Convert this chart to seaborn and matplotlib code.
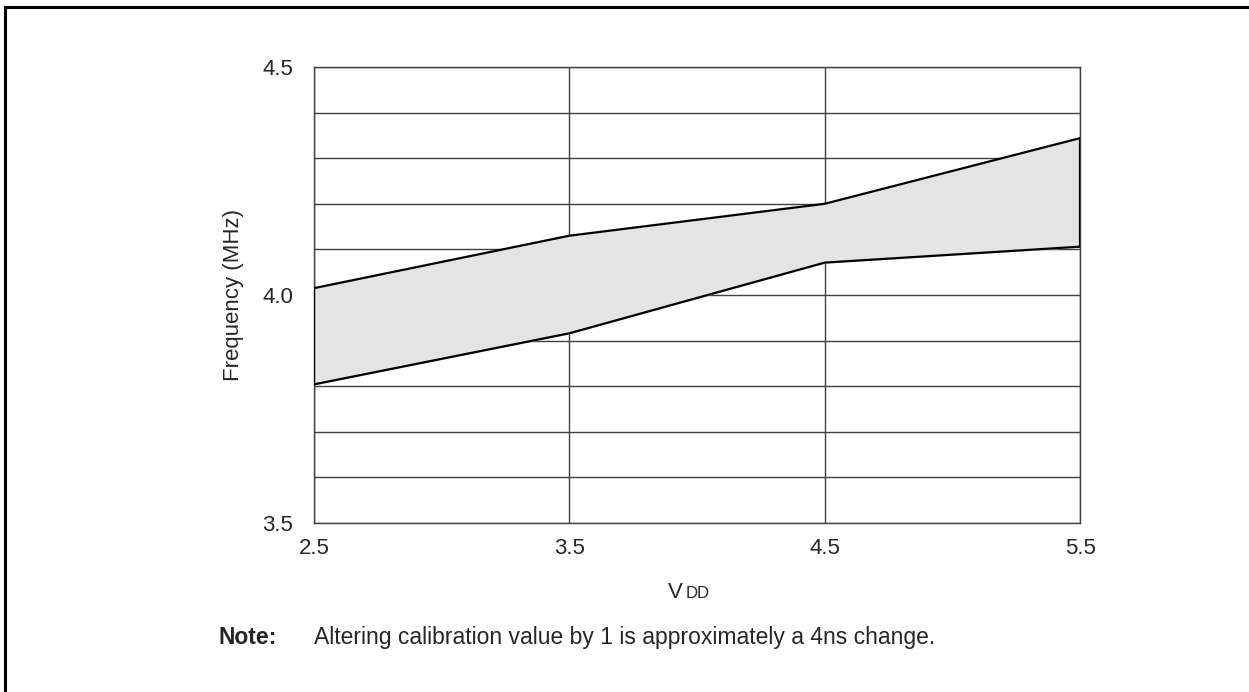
import numpy as np
import pandas as pd
import matplotlib
matplotlib.use('Agg')
import matplotlib.pyplot as plt
import matplotlib.patches as patches
import seaborn as sns

vdd = [2.5, 3.5, 4.5, 5.5]
freq_max = [4.015, 4.130, 4.200, 4.344]
freq_min = [3.804, 3.916, 4.071, 4.106]

df = pd.DataFrame({'VDD': vdd, 'max': freq_max, 'min': freq_min})

sns.set_style('white')
plt.rcParams['font.family'] = ['Liberation Sans', 'DejaVu Sans']

fig = plt.figure(figsize=(12.49, 6.92), dpi=100)
ax = fig.add_axes([314 / 1249, 1 - 523 / 692, (1080 - 314) / 1249, (523 - 67) / 692])

# grid under the band
ax.set_axisbelow(True)
ax.grid(True, color='#404040', linewidth=1.0)

ax.fill_between(df['VDD'], df['min'], df['max'], color='#e4e4e4', zorder=2)
sns.lineplot(data=df, x='VDD', y='max', color='black', linewidth=1.6, ax=ax, zorder=3)
sns.lineplot(data=df, x='VDD', y='min', color='black', linewidth=1.6, ax=ax, zorder=3)
for i in [0, -1]:
    ax.plot([vdd[i], vdd[i]], [freq_min[i], freq_max[i]], color='black', linewidth=1.6, zorder=3)

ax.set_xlim(2.5, 5.5)
ax.set_ylim(3.5, 4.5)
ax.set_xticks([2.5, 3.5, 4.5, 5.5])
ax.set_xticklabels(['2.5', '3.5', '4.5', '5.5'])
ax.set_yticks([3.5, 4.0, 4.5])
ax.set_yticks(np.arange(3.6, 4.45, 0.1), minor=True)
ax.set_yticklabels(['3.5', '4.0', '4.5'])
ax.grid(True, which='minor', axis='y', color='#404040', linewidth=1.0)
ax.tick_params(axis='both', which='both', length=0, labelsize=16)
ax.tick_params(axis='y', pad=15)
ax.tick_params(axis='x', pad=11)
for s in ax.spines.values():
    s.set_color('#404040')
    s.set_linewidth(1.0)

ax.set_xlabel('')
ax.set_ylabel('Frequency (MHz)', fontsize=16, labelpad=13)

# VDD label
fig.text(668 / 1249, 1 - 598 / 692, 'V', fontsize=16, ha='left', va='baseline')
fig.text(686 / 1249, 1 - 598 / 692, 'DD', fontsize=12, ha='left', va='baseline')

fig.text(218 / 1249, 1 - 644 / 692, 'Note:', fontsize=16.5, fontweight='bold', va='baseline')
fig.text(314 / 1249, 1 - 644 / 692, 'Altering calibration value by 1 is approximately a 4ns change.',
         fontsize=16.5, va='baseline')

# outer frame (right and bottom fall outside the image)
frame = patches.Rectangle((5 / 1249, -0.1), 1.1, 1.1 - 7 / 692, transform=fig.transFigure,
                          fill=False, edgecolor='black', linewidth=2.2, clip_on=False)
fig.patches.append(frame)

fig.savefig('out.png', dpi=100)
